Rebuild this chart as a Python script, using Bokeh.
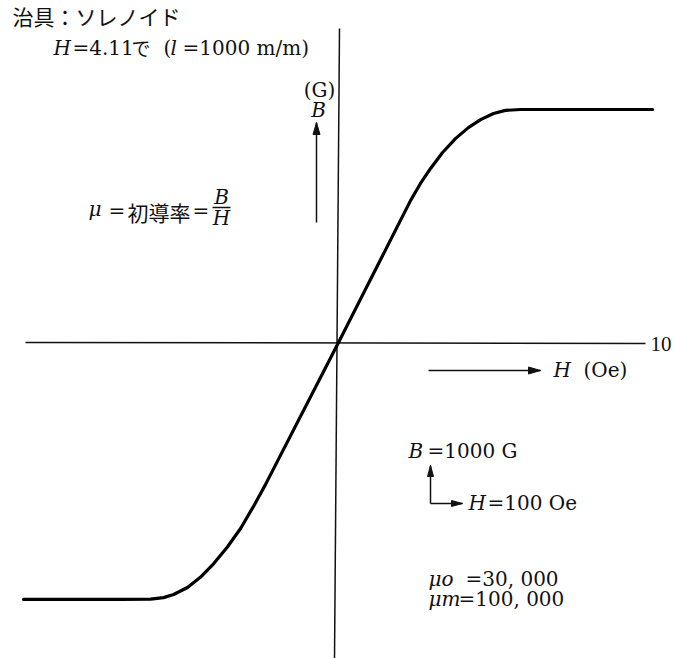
import math
from bokeh.plotting import figure
from bokeh.models import Range1d, ColumnDataSource
from bokeh.core.properties import value
from bokeh.embed import file_html
from bokeh.resources import INLINE

# ---- data: magnetization curve B(H) ----
H_values = [-10.26, -7.10, -6.12, -5.70, -5.37, -4.92, -4.50, -4.07, -3.62, -3.19,
            -2.77, -2.38, 0.0, 2.35, 2.67, 3.00, 3.39, 3.81, 4.23, 4.63,
            5.05, 5.44, 5.93, 10.23]
B_values = [-8.37, -8.37, -8.36, -8.31, -8.21, -7.98, -7.65, -7.21, -6.66, -6.06,
            -5.34, -4.63, 0.0, 4.63, 5.18, 5.67, 6.19, 6.64, 7.00, 7.26,
            7.46, 7.56, 7.59, 7.59]
H_axis_end_label = "10"

# ---- layout ----
W, HGT = 674, 658
PX = 30.7           # pixels per unit
OX, OY = 338, 342   # origin on the page (px)
TXT_DY = -8         # baseline correction for svg text

def dx(px):
    return (px - OX) / PX

def dy(py):
    return (OY - py) / PX

p = figure(width=W, height=HGT, output_backend="svg", toolbar_location=None,
           x_range=Range1d(dx(0), dx(W)), y_range=Range1d(dy(HGT), dy(0)),
           min_border=0)
p.axis.visible = False
p.grid.visible = False
p.outline_line_color = None
p.background_fill_color = "white"
p.border_fill_color = "white"

INK = "#111111"

# axes lines (slightly tilted like the scan)
p.line([dx(25), dx(645)], [dy(342), dy(343)], line_color=INK, line_width=1.5)
p.line([dx(339), dx(334)], [dy(28), dy(658)], line_color=INK, line_width=1.5)

# curve
p.line(H_values, B_values, line_color="black", line_width=3.2,
       line_join="round", line_cap="round")

# arrows
def arrow(x0, y0, x1, y1, hl=12, hw=3.5):
    p.line([dx(x0), dx(x1)], [dy(y0), dy(y1)], line_color=INK, line_width=1.5)
    L = math.hypot(x1 - x0, y1 - y0)
    ux, uy = (x1 - x0) / L, (y1 - y0) / L
    bx, by = x1 - ux * hl, y1 - uy * hl
    nx, ny = -uy, ux
    xs = [x1, bx + nx * hw, bx - nx * hw]
    ys = [y1, by + ny * hw, by - ny * hw]
    p.patch([dx(v) for v in xs], [dy(v) for v in ys], fill_color=INK, line_color=INK)

arrow(316, 222, 316, 122)          # B arrow
arrow(428, 370, 540, 370)          # H (Oe) arrow
arrow(430, 503, 430, 465, hl=11, hw=3)   # scale: B
arrow(430, 503, 462, 503, hl=11, hw=3)   # scale: H

# fraction bar
p.line([dx(212), dx(230)], [dy(207), dy(207)], line_color=INK, line_width=1.3)

SERIF = "DejaVu Serif"
CJK = "Noto Sans CJK JP"

def txt(items, font, style="normal", size="20px", align="left"):
    src = ColumnDataSource(dict(x=[dx(i[0]) for i in items],
                                y=[dy(i[1] + TXT_DY) for i in items],
                                t=[i[2] for i in items]))
    p.text(x="x", y="y", text="t", source=src, text_font=value(font),
           text_font_style=style, text_font_size=size, text_align=align,
           text_baseline="alphabetic", text_color=INK)

# CJK pieces
txt([(12, 23, "治具：ソレノイド")], CJK, size="21px")
txt([(131, 55, "で")], CJK, size="19px")
txt([(127, 219, "初導率")], CJK, size="21px")

# serif normal
txt([(72, 55, "=4.11"), (163, 55, "("), (182, 55, "=1000 m/m)"),
     (108, 218, "="), (192, 218, "="),
     (427, 458, "=1000 G"), (487, 510, "=100 Oe"),
     (465, 586, "=30, 000"), (458, 606, "=100, 000"),
     (583, 377, "(Oe)")], SERIF)
txt([(319, 97, "(G)")], SERIF, align="center")
txt([(650, 351, H_axis_end_label)], "Liberation Serif", size="21px")

# serif italic
txt([(53, 55, "H"), (170, 55, "l"), (88, 216, "μ"),
     (408, 458, "B"), (468, 510, "H"), (428, 586, "μo"), (428, 606, "μm"),
     (553, 377, "H")], SERIF, style="italic")
txt([(318, 117, "B"), (221, 204, "B"), (221, 225, "H")], SERIF, style="italic", align="center")

open("out.html", "w").write(file_html(p, INLINE))
